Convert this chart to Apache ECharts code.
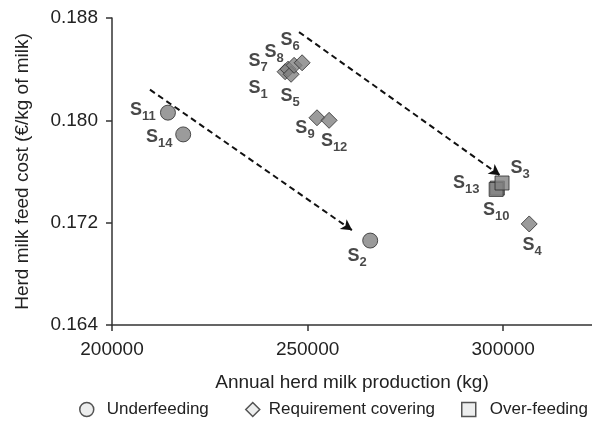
<!DOCTYPE html>
<html><head><meta charset="utf-8">
<script src="https://cdn.jsdelivr.net/npm/echarts@6/dist/echarts.min.js"></script>
<style>html,body{margin:0;padding:0;background:#fff}#c{width:592px;height:423px}</style>
</head><body><div id="c"></div>
<script>
// ---- data ----
const underNames = ['S11', 'S14', 'S2'];
const underX = [214300, 218200, 266000];
const underY = [0.1806, 0.1789, 0.1706];

const reqNames = ['S7', 'S1', 'S5', 'S8', 'S6', 'S9', 'S12', 'S4'];
const reqX = [244250, 245000, 245780, 246550, 248600, 252400, 255500, 306650];
const reqY = [0.1838, 0.1840, 0.1836, 0.1843, 0.1845, 0.1802, 0.1800, 0.1719];

const overNames = ['S10', 'S13', 'S3'];
const overX = [298500, 298200, 299700];
const overY = [0.1747, 0.1746, 0.1751];

const arrowStart = [[209700, 0.1824], [247800, 0.1869]];
const arrowEnd = [[261400, 0.1714], [299200, 0.1757]];

const xTicks = [200000, 250000, 300000];
const yTicks = [0.164, 0.172, 0.180, 0.188];
const legendNames = ['Underfeeding', 'Requirement covering', 'Over-feeding'];

// ---- label placement (pixel offsets from marker centre) ----
const labelOffsets = {
  S11: [-25, -1], S14: [-24, 5], S2: [-13, 17],
  S7: [-27, -9], S8: [-20, -11], S6: [-12, -21], S1: [-30, 21], S5: [-1, 24],
  S9: [-12, 12], S12: [5, 23], S4: [3, 23],
  S3: [18, -13], S13: [-30, -4], S10: [-1, 24]
};

function build(names, xs, ys) {
  return names.map((n, i) => ({
    name: n,
    value: [xs[i], ys[i]],
    label: { offset: labelOffsets[n] }
  }));
}

const markerStyle = { color: '#828282', borderColor: '#2a2a2a', borderWidth: 1 };
const legendStyle = { color: '#e9eaea', borderColor: '#2a2a2a', borderWidth: 1.5 };
const font = 'Liberation Sans';

const labelCfg = {
  show: true,
  position: 'inside',
  formatter: p => '{s|S}{n|' + p.name.slice(1) + '}',
  rich: {
    s: { fontSize: 18, fontWeight: 'bold', color: '#1a1a1a', fontFamily: font, lineHeight: 22, verticalAlign: 'top' },
    n: { fontSize: 13, fontWeight: 'bold', color: '#1a1a1a', fontFamily: font, lineHeight: 22, verticalAlign: 'bottom', padding: [9, 0, 0, 0] }
  }
};

const chart = echarts.init(document.getElementById('c'), null, { renderer: 'canvas' });
chart.setOption({
  animation: false,
  textStyle: { fontFamily: font },
  grid: { left: 112, right: 0, top: 18, bottom: 98, outerBoundsMode: 'none', containLabel: false },
  xAxis: {
    type: 'value', min: 200000, max: 322700,
    splitLine: { show: false },
    axisLine: { lineStyle: { color: '#333', width: 1.5 } },
    axisTick: { customValues: xTicks, length: 6, lineStyle: { color: '#333', width: 1.5 } },
    axisLabel: { customValues: xTicks, fontSize: 19, color: '#222', margin: 15, fontFamily: font, formatter: v => String(v) },
    name: 'Annual herd milk production (kg)', nameLocation: 'middle', nameGap: 48,
    nameTextStyle: { fontSize: 19, color: '#222', fontFamily: font }
  },
  yAxis: {
    type: 'value', min: 0.164, max: 0.188,
    splitLine: { show: false },
    axisLine: { lineStyle: { color: '#333', width: 1.5 } },
    axisTick: { customValues: yTicks, length: 6, lineStyle: { color: '#333', width: 1.5 } },
    axisLabel: { customValues: yTicks, fontSize: 19, color: '#222', margin: 14, fontFamily: font, formatter: v => v.toFixed(3) },
    name: 'Herd milk feed cost (€/kg of milk)', nameLocation: 'middle', nameGap: 80,
    nameTextStyle: { fontSize: 19, color: '#222', fontFamily: font }
  },
  legend: [
    { data: [{ name: legendNames[0], icon: 'circle', itemStyle: legendStyle }], left: 79, top: 401, pad: 8 },
    { data: [{ name: legendNames[1], icon: 'diamond', itemStyle: legendStyle }], left: 245, top: 401, pad: 4 },
    { data: [{ name: legendNames[2], icon: 'rect', itemStyle: legendStyle }], left: 461, top: 401, pad: 9 }
  ].map(l => {
    const pad = l.pad; delete l.pad;
    return Object.assign(l, {
      itemWidth: 14, itemHeight: 14, selectedMode: false, padding: 0,
      textStyle: { fontSize: 17, color: '#222', fontFamily: font, padding: [0, 0, 0, pad] }
    });
  }),
  series: [
    {
      name: legendNames[0], type: 'scatter', symbol: 'circle', symbolSize: 15,
      itemStyle: markerStyle, label: labelCfg,
      data: build(underNames, underX, underY),
      markLine: {
        silent: true, symbol: ['none', 'arrow'], symbolSize: [9, 11],
        label: { show: false },
        lineStyle: { color: '#111', width: 2, type: [6, 4] },
        data: arrowStart.map((s, i) => [{ coord: s }, { coord: arrowEnd[i] }])
      }
    },
    {
      name: legendNames[1], type: 'scatter', symbol: 'diamond', symbolSize: 16,
      itemStyle: markerStyle, label: labelCfg,
      data: build(reqNames, reqX, reqY)
    },
    {
      name: legendNames[2], type: 'scatter', symbol: 'rect', symbolSize: 14,
      itemStyle: markerStyle, label: labelCfg,
      data: build(overNames, overX, overY)
    }
  ]
});
</script></body></html>
